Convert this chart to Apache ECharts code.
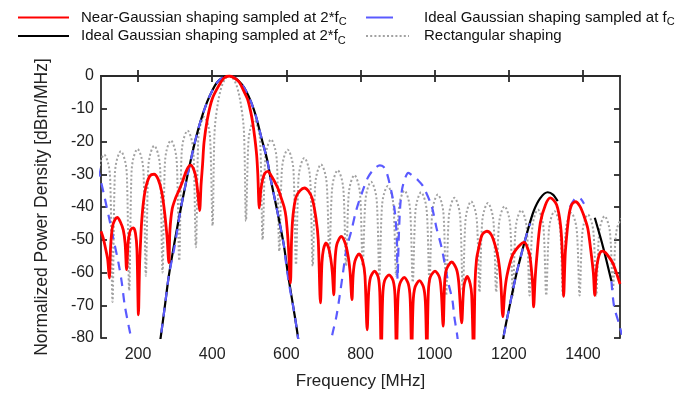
<!DOCTYPE html>
<html>
<head>
<meta charset="utf-8">
<script src="https://cdn.jsdelivr.net/npm/echarts@6/dist/echarts.min.js"></script>
<style>html,body{margin:0;padding:0;background:#fff;}#c{width:691px;height:395px;}</style>
</head>
<body>
<div id="c"></div>
<script>
// ---- tick values ----
const xTicks = [200, 400, 600, 800, 1000, 1200, 1400];
const yTicks = [-80, -70, -60, -50, -40, -30, -20, -10, 0];

// ---- Near-Gaussian shaping sampled at 2*fc (red) ----
const redF = [100,106,112,118,122.5, 126,131,137,144,152,160,165,169, 173,177,181,187.5,193,197,201,
  204,207,210,215,222,232,243,254,264,272,278,283, 286,292,301,310,319,332,342,350,356,362,366,
  370,374,378,387,400,418,432,446,460,473,486,495,503,509,515,520,523,527,
  531,536,542,550,558,568,578,586,594,599,605,611, 614,618,626,637,649,660,670,680,686,692,
  696,700,707,714,720,724,728, 731,736,748,760,768,772,777, 780,785,796,806,812,818,
  822,827,838,848,852,856, 860,865,877,888,893,897, 901,906,918,929,934,938, 942,947,959,970,975,979,
  983,988,1001,1013,1018,1023, 1027,1032,1046,1059,1065,1073, 1077,1080,1088,1096,1100,1105,
  1109,1113,1118,1128,1141,1153,1164,1172,1178,1184, 1189,1195,1209,1227,1242,1252,1257,1264,1267,
  1271,1275,1285,1299,1312,1329,1340,1345,1348, 1351,1353,1362,1370,1380,1392,1403,1413,1421,1428,1432,
  1435,1439,1446,1454,1465,1480,1490,1500];
const redDb = [-47.4,-49.5,-52.5,-56,-61.7, -52,-46,-44,-43.2,-44.5,-47,-51,-59.1, -51,-48,-46.8,-46.4,-48,-53,-72.9,
  -58,-50,-44,-38,-33.5,-30.5,-30,-31.5,-35.5,-42,-49,-57, -47,-40.6,-37.3,-35,-32.5,-28.5,-27.2,-28.5,-31,-36.5,-41.1,
  -33,-27,-20.2,-13.1,-7,-2.9,-0.6,0,-0.6,-1.9,-4.8,-7,-10.5,-14.1,-19,-24.3,-30,-40.3,
  -35,-31.6,-29.7,-29.1,-30.2,-32.2,-34.5,-37.2,-40,-43,-51,-63.2, -50,-42.5,-37,-35,-34.2,-35.2,-37.5,-43.5,-50,-69.3,
  -57,-53,-51,-52.5,-56,-60,-66.8, -57,-51.5,-49,-51.5,-56,-60,-68.3, -61,-56.5,-54.3,-56.5,-61,-77.5,
  -66,-61.5,-59.6,-61.5,-66,-85, -67,-62.5,-60.7,-62.5,-67,-85, -68,-63.5,-61.5,-63.5,-68,-85, -69,-64.5,-62.5,-64.5,-69,-85,
  -66,-61.5,-59.6,-61.5,-66,-76.4, -63,-59,-56.8,-59,-63,-75.4, -67,-63.5,-61.2,-63.5,-67,-85,
  -63,-56,-53,-48.5,-47.4,-48.5,-52,-56,-62,-73.5, -66,-61,-55,-52,-50.8,-53,-55,-63,-70.5,
  -62,-56,-44.9,-39.3,-37.2,-39.3,-45.9,-56,-67.3, -58,-53,-42.8,-39.2,-38.4,-39.8,-42.8,-46.5,-53,-60,-67,
  -61,-57,-54,-53.5,-54.5,-57,-60,-63.5];

// ---- Ideal Gaussian shaping sampled at fc (blue dashed) ----
const blueF = [92,97,110,123,134,147,156,164,175,182,190, 220,
  250,255,261,272,283,297,306,315,333,351,364,386,400,413,430,446,465,480,491,505,518,533,548,559,576,593,599,608,620,631,636, 680,
  718,723,735,744,752,762,775,789,807,820,835,852,862,871,885,893,898,900,903,907,912,920,929,940,955,969,992,1005,1019,1037,1048,1053,1060,1065, 1120,
  1180,1186,1200,1220,1236,1249,1258, 1300,
  1365,1376,1385,1394,1403, 1440,
  1477,1484,1498,1505];
const blueDb = [-28,-30.7,-37.2,-44,-50,-57,-63,-70,-76.5,-80.5,-86, null,
  -88,-84,-79.8,-70.5,-61,-53,-47,-40.6,-30.5,-21.3,-15.5,-8,-4.5,-2,-0.4,0,-0.9,-2.6,-4.5,-8,-12.3,-19,-25.5,-32.2,-41.5,-51.5,-57,-64,-71.4,-79.5,-85, null,
  -84,-79.5,-73.4,-67,-60.7,-53,-47.4,-40.8,-34.7,-31,-28.6,-27.3,-27.7,-29.6,-36.2,-41.8,-50,-62,-50,-40,-34.7,-31.3,-29.6,-30.4,-31.8,-33.7,-39.8,-46.4,-52.5,-63.2,-68.5,-73.5,-78.5,-83, null,
  -84,-79.6,-71.5,-60.7,-53.5,-48,-45, null,
  -40,-37.8,-37,-37.5,-39, null,
  -62.7,-70.3,-75.9,-79];

// ---- Ideal Gaussian shaping sampled at 2*fc (black) ----
const blackF = [250,255,261,272,283,298,315,333,351,368,386,400,413,430,446,465,480,491,505,518,533,548,559,576,593,605,620,631,636, 900,
  1180,1186,1200,1220,1236,1249,1267,1285,1305,1320,1332, 1380,
  1432,1455,1477];
const blackDb = [-88,-84,-79.8,-70.5,-61,-51,-40.6,-30.5,-21.3,-14,-8,-4.5,-2,-0.4,0,-0.9,-2.6,-4.5,-8,-12.3,-19,-25.5,-32.2,-41.5,-51.5,-61,-71.4,-79.5,-85, null,
  -85,-79.5,-71.5,-60.7,-53.5,-48,-41.3,-37.3,-35.5,-36.3,-38.2, null,
  -43.3,-52.5,-62.7];

// ---- Rectangular shaping (grey dotted) ----
const rectF = [86,92,97,108.5,120,125, 131,137,142,153.5,165,170, 176,182,187,198.5,210,215, 221,227,232,243.5,255,260,
  266,272,277,288.5,300,305, 311,317,322,333.5,345,350, 356,362,367,378.5,390,395,
  401,406,412,423.5,435,446,457,468.5,480,486,
  491,497,502,513.5,525,530, 536,542,547,558.5,570,575, 581,587,592,603.5,615,620, 626,632,637,648.5,660,665,
  671,677,682,693.5,705,710, 716,722,727,738.5,750,755, 761,767,772,783.5,795,800, 806,812,817,828.5,840,845,
  851,857,862,873.5,885,890, 896,902,907,918.5,930,935, 941,947,952,963.5,975,980, 986,992,997,1008.5,1020,1025,
  1031,1037,1042,1053.5,1065,1070, 1076,1082,1087,1098.5,1110,1115, 1121,1127,1132,1143.5,1155,1160,
  1166,1172,1177,1188.5,1200,1205, 1211,1217,1222,1233.5,1245,1250, 1256,1262,1267,1278.5,1290,1295,
  1301,1307,1312,1323.5,1335,1340, 1346,1352,1357,1368.5,1380,1385, 1391,1397,1402,1413.5,1425,1430,
  1436,1442,1447,1458.5,1470,1475, 1481,1487,1492,1503.5];
const rectDb = [-62,-32,-27,-24,-27,-32, -69,-31,-26,-23,-26,-31, -65.5,-30.3,-25.3,-22.3,-25.3,-30.3, -61,-29.3,-24.3,-21.3,-24.3,-29.3,
  -60,-27.7,-22.7,-19.7,-22.7,-27.7, -56.4,-24.7,-19.7,-16.7,-19.7,-24.7, -52.3,-20.5,-15.5,-12.5,-15.5,-20.5,
  -45.7,-18,-10.7,-3.9,-0.9,0,-0.9,-3.9,-10.7,-18,
  -44.3,-21.5,-16.5,-13.5,-16.5,-21.5, -50,-27.4,-22.4,-19.4,-22.4,-27.4, -53.5,-30.5,-25.5,-22.5,-25.5,-30.5, -57.6,-33,-28,-25,-28,-33,
  -58,-35,-30,-27,-30,-35, -55,-36.8,-31.8,-28.8,-31.8,-36.8, -58,-38.3,-33.3,-30.3,-33.3,-38.3, -58,-40.3,-35.3,-32.3,-35.3,-40.3,
  -61,-41.6,-36.6,-33.6,-36.6,-41.6, -61,-43,-38,-35,-38,-43, -63,-43.5,-38.5,-35.5,-38.5,-43.5, -63,-44.2,-39.2,-36.2,-39.2,-44.2,
  -67,-45.2,-40.2,-37.2,-40.2,-45.2, -66,-46.3,-41.3,-38.3,-41.3,-46.3, -66,-46.8,-41.8,-38.8,-41.8,-46.8,
  -66,-47.8,-42.8,-39.8,-42.8,-47.8, -67,-49,-44,-41,-44,-49, -67,-48.8,-43.8,-40.8,-43.8,-48.8,
  -67,-49.3,-44.3,-41.3,-44.3,-49.3, -67,-49.8,-44.8,-41.8,-44.8,-49.8, -67,-50.3,-45.3,-42.3,-45.3,-50.3,
  -67,-50.8,-45.8,-42.8,-45.8,-50.8, -65,-51.5,-46.5,-43.5];

const NAME_RED = 'Near-Gaussian shaping sampled at 2*fC';
const NAME_BLUE = 'Ideal Gaussian shaping sampled at fC';
const NAME_BLACK = 'Ideal Gaussian shaping sampled at 2*fC';
const NAME_RECT = 'Rectangular shaping';

function zip(f, d) {
  const out = [];
  const n = Math.min(f.length, d.length);
  for (let i = 0; i < n; i++) out.push([f[i], d[i] == null ? '-' : d[i]]);
  return out;
}

const FONT = "'Liberation Sans Narrow', 'Arial Narrow', 'Liberation Sans', Arial, sans-serif";
const chart = echarts.init(document.getElementById('c'), null, {renderer: 'canvas'});

function legendTextStyle(padLeft) {
  return {
    fontFamily: FONT, fontSize: 15, color: '#111',
    rich: {
      t: {fontFamily: FONT, fontSize: 15, color: '#111', lineHeight: 20, padding: [0, 0, 0, padLeft]},
      s: {fontFamily: FONT, fontSize: 11, color: '#111', lineHeight: 12, verticalAlign: 'bottom'}
    }
  };
}
function fmt(name) {
  if (name.endsWith('fC')) return '{t|' + name.slice(0, -1) + '}{s|C}';
  return '{t|' + name + '}';
}

const axisLineStyle = {color: '#2a2a2a', width: 1.8};
const fmtNum = v => String(v);

chart.setOption({
  animation: false,
  backgroundColor: '#fff',
  grid: {left: 101, right: 71, top: 76, bottom: 57, containLabel: false},
  legend: [
    {left: 17, top: 10, padding: 0, orient: 'vertical', itemWidth: 51, itemHeight: 14, itemGap: 1,
     itemStyle: {opacity: 0},
     data: [NAME_RED, NAME_BLACK], formatter: fmt, textStyle: legendTextStyle(7), selectedMode: false},
    {left: 365, top: 10, padding: 0, orient: 'vertical', itemWidth: 43, itemHeight: 14, itemGap: 1,
     itemStyle: {opacity: 0},
     data: [{name: NAME_BLUE, lineStyle: {type: [27, 30]}}, NAME_RECT], formatter: fmt,
     textStyle: legendTextStyle(10), selectedMode: false}
  ],
  xAxis: [
    {type: 'value', min: 100, max: 1500, position: 'bottom',
     name: 'Frequency [MHz]', nameLocation: 'middle', nameGap: 35,
     nameTextStyle: {fontFamily: FONT, fontSize: 17, color: '#222'},
     axisLine: {show: true, lineStyle: axisLineStyle},
     axisTick: {show: true, inside: true, length: 6, lineStyle: axisLineStyle, customValues: xTicks},
     axisLabel: {show: true, customValues: xTicks, formatter: fmtNum, fontFamily: FONT, fontSize: 16, color: '#222', margin: 9},
     splitLine: {show: false}},
    {type: 'value', min: 100, max: 1500, position: 'top',
     axisLine: {show: true, lineStyle: axisLineStyle},
     axisTick: {show: true, inside: true, length: 6, lineStyle: axisLineStyle, customValues: xTicks},
     axisLabel: {show: false}, splitLine: {show: false}}
  ],
  yAxis: [
    {type: 'value', min: -80, max: 0, interval: 10, position: 'left',
     name: 'Normalized Power Density [dBm/MHz]', nameLocation: 'middle', nameGap: 50,
     nameTextStyle: {fontFamily: FONT, fontSize: 17.5, color: '#222'},
     axisLine: {show: true, lineStyle: axisLineStyle},
     axisTick: {show: true, inside: true, length: 6, lineStyle: axisLineStyle, customValues: yTicks},
     axisLabel: {show: true, customValues: yTicks, formatter: fmtNum, fontFamily: FONT, fontSize: 16, color: '#222', margin: 7},
     splitLine: {show: false}},
    {type: 'value', min: -80, max: 0, interval: 10, position: 'right',
     axisLine: {show: true, lineStyle: axisLineStyle},
     axisTick: {show: true, inside: true, length: 6, lineStyle: axisLineStyle},
     axisLabel: {show: false}, splitLine: {show: false}}
  ],
  series: [
    {name: NAME_RECT, type: 'line', data: zip(rectF, rectDb), symbol: 'none', smooth: 0.35, clip: true,
     lineStyle: {color: '#a2a2a2', width: 2, type: [2, 2.2]}, itemStyle: {color: '#a2a2a2'}, z: 2},
    {name: NAME_BLACK, type: 'line', data: zip(blackF, blackDb), symbol: 'none', smooth: 0.3, clip: true,
     connectNulls: false, lineStyle: {color: '#000', width: 2.2}, itemStyle: {color: '#000'}, z: 3},
    {name: NAME_BLUE, type: 'line', data: zip(blueF, blueDb), symbol: 'none', smooth: 0.3, clip: true,
     connectNulls: false, lineStyle: {color: '#5a5aff', width: 2.2, type: [9, 7]}, itemStyle: {color: '#5a5aff'}, z: 4},
    {name: NAME_RED, type: 'line', data: zip(redF, redDb), symbol: 'none', smooth: 0.3, clip: true,
     lineStyle: {color: '#ff0000', width: 2.8}, itemStyle: {color: '#ff0000'}, z: 5}
  ]
});
</script>
</body>
</html>
